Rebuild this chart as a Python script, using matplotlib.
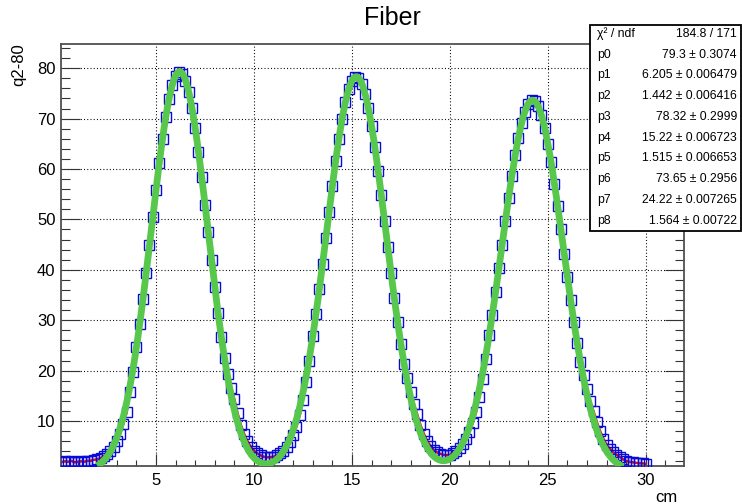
import numpy as np
import matplotlib
matplotlib.use("Agg")
import matplotlib.pyplot as plt
from matplotlib.patches import Rectangle
from matplotlib.ticker import MultipleLocator

plt.rcParams["font.family"] = ["Liberation Sans", "DejaVu Sans"]

# q2-80 profile along the fiber, one bin every 1/6 cm
bin_width = 1 / 6
counts = [
    1.8, 2.0, 1.9, 2.1, 1.8, 1.9,
    2.0, 1.9, 2.1, 2.1, 2.3, 2.4,
    2.6, 3.0, 3.4, 4.0, 4.9, 6.0,
    7.5, 9.4, 11.7, 15.8, 19.7, 24.7,
    29.2, 34.2, 39.4, 44.9, 50.4, 55.9,
    61.1, 66.0, 70.3, 73.9, 76.6, 78.4,
    79.2, 78.9, 77.5, 75.2, 72.1, 68.1,
    63.4, 58.4, 52.9, 47.4, 41.9, 36.6,
    31.5, 26.7, 22.4, 19.4, 16.6, 14.3,
    11.5, 9.2, 7.4, 6.0, 4.9, 4.1,
    3.6, 3.2, 2.9, 2.8, 2.8, 2.9,
    3.2, 3.6, 4.1, 4.9, 5.9, 7.2,
    8.9, 11.1, 14.2, 17.7, 21.9, 26.8,
    31.3, 36.1, 41.2, 46.3, 51.5, 56.6,
    61.5, 66.0, 69.9, 73.2, 75.8, 77.4,
    78.2, 78.0, 76.9, 74.9, 72.1, 68.5,
    64.4, 59.7, 54.8, 49.7, 44.5, 39.3,
    34.4, 29.6, 25.3, 21.3, 18.5, 15.7,
    13.3, 11.3, 9.2, 7.5, 6.1, 5.1,
    4.3, 3.8, 3.5, 3.3, 3.2, 3.3,
    3.6, 4.0, 4.6, 5.4, 6.5, 7.9,
    9.6, 11.7, 14.8, 18.3, 22.3, 27.0,
    31.1, 35.6, 40.3, 45.0, 49.7, 54.3,
    58.7, 62.7, 66.2, 69.1, 71.3, 72.8,
    73.6, 73.4, 72.4, 70.7, 68.2, 65.0,
    61.3, 57.1, 52.7, 48.0, 43.2, 38.5,
    34.0, 29.6, 25.5, 21.7, 19.1, 16.3,
    13.9, 11.9, 9.8, 8.0, 6.5, 5.3,
    4.5, 3.8, 3.3, 2.9, 2.4, 2.1,
    1.9, 1.8, 1.7, 1.6, 1.6, 1.5,
]
positions = np.arange(1, len(counts) + 1) * bin_width

# triple gaussian fit: (amplitude, mean, sigma) for each peak
fit_params = [79.3, 6.205, 1.442, 78.32, 15.22, 1.515, 73.65, 24.22, 1.564]
fit_errors = [0.3074, 0.006479, 0.006416, 0.2999, 0.006723,
              0.006653, 0.2956, 0.007265, 0.00722]
fit_range = (2.0, 28.85)
chi2, ndf = 184.8, 171


def triple_gaus(x, p):
    y = np.zeros_like(x)
    for k in range(0, 9, 3):
        y += p[k] * np.exp(-0.5 * ((x - p[k + 1]) / p[k + 2]) ** 2)
    return y


W, H = 742, 504
fig = plt.figure(figsize=(W / 100, H / 100), dpi=100)
ax = fig.add_axes([61 / W, 1 - 466 / H, (684 - 61) / W, (466 - 44) / H])

ax.plot(positions, counts, color="#dd1010", lw=1.8, zorder=2)
ax.plot(positions, counts, ls="none", marker="s", ms=7.0, mfc="none",
        mec="#0a0ad8", mew=1.0, zorder=3)
xf = np.linspace(fit_range[0], fit_range[1], 600)
ax.plot(xf, triple_gaus(xf, fit_params), color="#58c84c", lw=4.9,
        solid_capstyle="butt", zorder=4)

ax.set_xlim(0.15, 31.95)
ax.set_ylim(1.07, 84.8)
ax.xaxis.set_major_locator(MultipleLocator(5))
ax.xaxis.set_minor_locator(MultipleLocator(1))
ax.yaxis.set_major_locator(MultipleLocator(10))
ax.yaxis.set_minor_locator(MultipleLocator(2))
ax.set_yticks([10, 20, 30, 40, 50, 60, 70, 80])

ax.tick_params(axis="both", which="both", direction="in", colors="#333333",
               width=0.8, labelsize=12, labelcolor="black")
ax.tick_params(axis="y", which="major", length=13.5, right=True, pad=4)
ax.tick_params(axis="y", which="minor", length=6.7, right=True)
ax.tick_params(axis="x", which="major", length=9.0, pad=5)
ax.tick_params(axis="x", which="minor", length=4.5)

ax.grid(True, which="major", color="black", lw=0.8, linestyle=(0, (0.9, 2.0)))
ax.set_axisbelow(True)
for s in ax.spines.values():
    s.set_color("#505050")
    s.set_linewidth(1.3)

fig.text(392 / W, 1 - 18 / H, "Fiber", ha="center", va="center", fontsize=18)
fig.text(18.5 / W, 1 - 43 / H, "q2-80", rotation=90, ha="center", va="top",
         fontsize=12)
fig.text(678 / W, 1 - 502 / H, "cm", ha="right", va="baseline", fontsize=12)

# statistics box
box = Rectangle((590 / W, 1 - 231 / H), (741 - 590) / W, (231 - 25) / H,
                transform=fig.transFigure, facecolor="white",
                edgecolor="black", lw=1.3, zorder=5)
fig.add_artist(box)
rows = [("χ² / ndf", f"{chi2:g} / {ndf}")]
rows += [(f"p{k}", f"{v:g} ± {e:g}") for k, (v, e) in
         enumerate(zip(fit_params, fit_errors))]
row_y0, row_step = 34, 20.74
for r, (name, val) in enumerate(rows):
    y = 1 - (row_y0 + r * row_step) / H
    fig.text(597 / W, y, name, ha="left", va="center", fontsize=8.8, zorder=6)
    fig.text(737 / W, y, val, ha="right", va="center", fontsize=8.8, zorder=6)

fig.savefig("out.png", dpi=100)
